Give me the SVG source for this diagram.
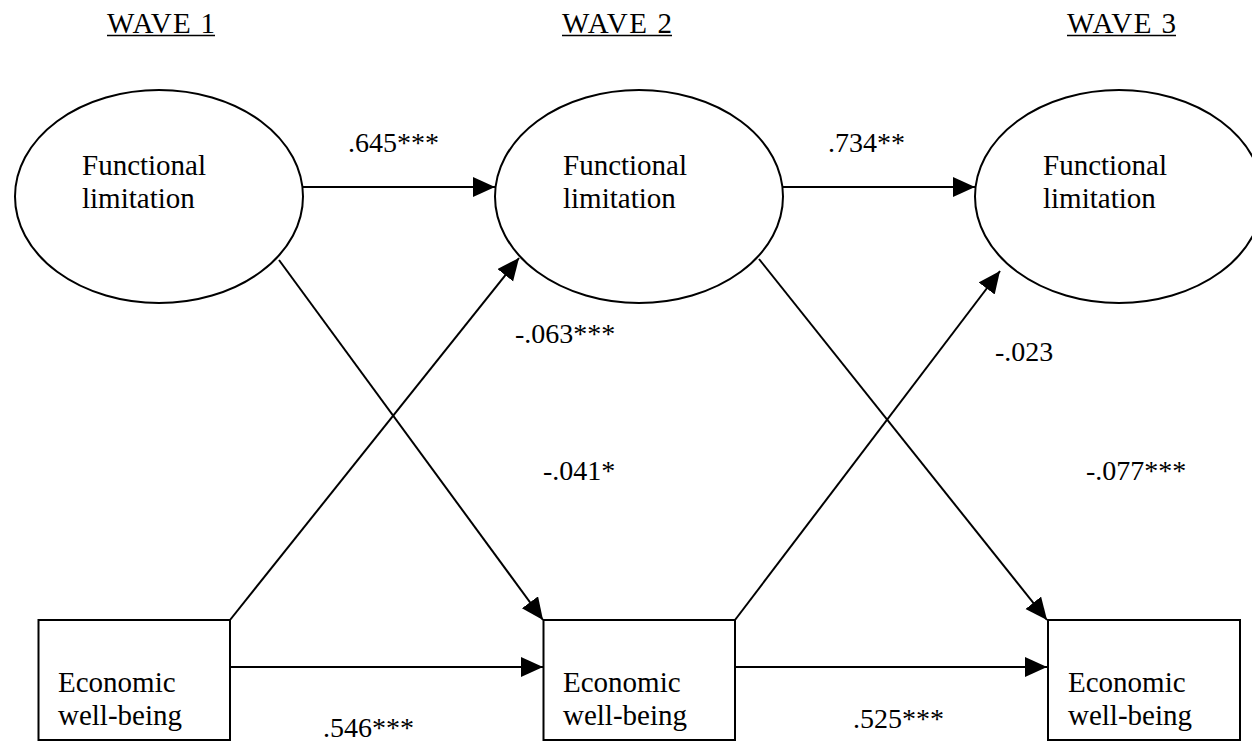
<svg xmlns="http://www.w3.org/2000/svg" width="1252" height="741" viewBox="0 0 1252 741">
<style>
.node{fill:#fff;stroke:#000;stroke-width:2}
.t{font-family:"Liberation Serif","Times New Roman",serif;font-size:29px;fill:#000}
.lbl{font-family:"Liberation Serif","Times New Roman",serif;font-size:28px;fill:#000}
.c{stroke:#000;stroke-width:2;fill:none;marker-end:url(#ah)}
.u{stroke:#000;stroke-width:1.5}
</style>
<defs>
<marker id="ah" markerUnits="userSpaceOnUse" markerWidth="24" markerHeight="22" refX="22" refY="10" orient="auto" viewBox="0 0 24 22">
<path d="M0,0 L22,10 L0,20 z" fill="#000"/>
</marker>
</defs>
<rect width="1252" height="741" fill="#fff"/>
<g id="headers">
<text class="t" x="107" y="33" textLength="108" lengthAdjust="spacing">WAVE 1</text>
<line class="u" x1="107" y1="35.5" x2="215" y2="35.5"/>
<text class="t" x="562" y="33" textLength="110" lengthAdjust="spacing">WAVE 2</text>
<line class="u" x1="562" y1="35.5" x2="672" y2="35.5"/>
<text class="t" x="1067" y="33" textLength="109" lengthAdjust="spacing">WAVE 3</text>
<line class="u" x1="1067" y1="35.5" x2="1176" y2="35.5"/>
</g>
<g id="connectors">
<line class="c" x1="303" y1="187" x2="495" y2="187"/>
<line class="c" x1="783" y1="187" x2="975" y2="187"/>
<line class="c" x1="230" y1="667" x2="543" y2="667"/>
<line class="c" x1="735" y1="667" x2="1047" y2="667"/>
<line class="c" x1="279" y1="260" x2="543" y2="620"/>
<line class="c" x1="230" y1="620" x2="519" y2="258"/>
<line class="c" x1="759" y1="259" x2="1047" y2="620"/>
<line class="c" x1="735" y1="620" x2="1000" y2="271"/>
</g>
<g id="labels">
<text class="lbl" x="348" y="152">.645***</text>
<text class="lbl" x="828" y="152">.734**</text>
<text class="lbl" x="515" y="343">-.063***</text>
<text class="lbl" x="995" y="361">-.023</text>
<text class="lbl" x="543" y="480">-.041*</text>
<text class="lbl" x="1086" y="480">-.077***</text>
<text class="lbl" x="323" y="737">.546***</text>
<text class="lbl" x="853" y="728">.525***</text>
</g>
<g id="fl1">
<ellipse class="node" cx="159" cy="196.5" rx="144" ry="106.5"/>
<text class="t" x="82" y="175">Functional</text>
<text class="t" x="82" y="208">limitation</text>
</g>
<g id="fl2">
<ellipse class="node" cx="639" cy="196.5" rx="144" ry="106.5"/>
<text class="t" x="563" y="175">Functional</text>
<text class="t" x="563" y="208">limitation</text>
</g>
<g id="fl3">
<ellipse class="node" cx="1119" cy="196.5" rx="144" ry="106.5"/>
<text class="t" x="1043" y="175">Functional</text>
<text class="t" x="1043" y="208">limitation</text>
</g>
<g id="ewb1">
<rect class="node" x="38.5" y="620" width="191.5" height="120"/>
<text class="t" x="58" y="692">Economic</text>
<text class="t" x="58" y="725">well-being</text>
</g>
<g id="ewb2">
<rect class="node" x="543.5" y="620" width="191.5" height="120"/>
<text class="t" x="563" y="692">Economic</text>
<text class="t" x="563" y="725">well-being</text>
</g>
<g id="ewb3">
<rect class="node" x="1048" y="620" width="192" height="120"/>
<text class="t" x="1068" y="692">Economic</text>
<text class="t" x="1068" y="725">well-being</text>
</g>
</svg>
